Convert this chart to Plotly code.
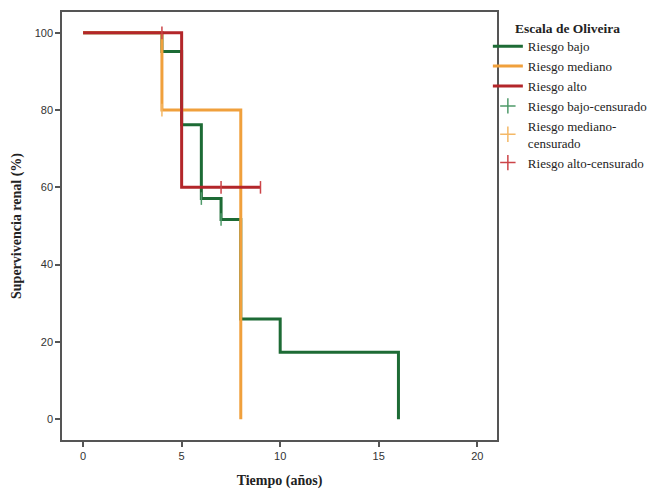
import plotly.graph_objects as go

# Kaplan-Meier step data (time in years, survival %)
bajo_t = [0, 4, 5, 6, 7, 8, 10, 16]
bajo_s = [100, 95.2, 76.2, 57.1, 51.7, 25.9, 17.3, 0]
mediano_t = [0, 4, 8]
mediano_s = [100, 80, 0]
alto_t = [0, 5, 9]
alto_s = [100, 60, 60]

# censored observations
bajo_cens_t = [6, 7]
bajo_cens_s = [57.1, 51.7]
mediano_cens_t = [4]
mediano_cens_s = [80]
alto_cens_t = [4, 7, 9]
alto_cens_s = [100, 60, 60]

names = ["Riesgo bajo", "Riesgo mediano", "Riesgo alto"]
cens_names = ["Riesgo bajo-censurado", "Riesgo mediano-<br>censurado", "Riesgo alto-censurado"]
legend_title = "Escala de Oliveira"
x_ticks = [0, 5, 10, 15, 20]
y_ticks = [0, 20, 40, 60, 80, 100]

col_main = ["#1d6b35", "#f0a03c", "#b3262a"]
col_cens = ["#4f9a6a", "#f4b866", "#cc4448"]

fig = go.Figure()
curves = [(bajo_t, bajo_s), (mediano_t, mediano_s), (alto_t, alto_s)]
cens = [(bajo_cens_t, bajo_cens_s), (mediano_cens_t, mediano_cens_s), (alto_cens_t, alto_cens_s)]

for (t, s), n, c in zip(curves, names, col_main):
    fig.add_trace(go.Scatter(x=t, y=s, mode="lines", line=dict(shape="hv", color=c, width=3),
                             name=n))
for (t, s), n, c in zip(cens, cens_names, col_cens):
    fig.add_trace(go.Scatter(x=t, y=s, mode="markers", showlegend=False, name=n,
                             marker=dict(symbol="line-ns", size=9, line=dict(color=c, width=1.5))))
for n, c in zip(cens_names, col_cens):
    fig.add_trace(go.Scatter(x=[None], y=[None], mode="markers", name=n,
                             marker=dict(symbol="cross-thin", size=11, line=dict(color=c, width=1.5))))

serif = "Liberation Serif, Times New Roman, serif"
sans = "Liberation Sans, Arial, sans-serif"
axis_common = dict(showline=True, linecolor="#555555", linewidth=1.5, mirror=True,
                   showgrid=False, zeroline=False, ticks="outside", ticklen=5,
                   tickcolor="#555555", tickwidth=1.5,
                   tickfont=dict(family=sans, size=11, color="#333333"))

fig.update_layout(
    width=654, height=485,
    paper_bgcolor="white", plot_bgcolor="white",
    margin=dict(l=54, r=165, t=2, b=53),
    xaxis=dict(range=[-1.07, 21.0], tickvals=x_ticks,
               title=dict(text="<b>Tiempo (años)</b>", font=dict(family=serif, size=14, color="#222222"),
                          standoff=14),
               **axis_common),
    yaxis=dict(range=[-5.4, 105.4], tickvals=y_ticks,
               title=dict(text="<b>Supervivencia renal (%)</b>", font=dict(family=serif, size=14, color="#222222"),
                          standoff=10),
               **axis_common),
    legend=dict(x=0.979, xanchor="left", y=0.955, yanchor="top",
                font=dict(family=serif, size=13, color="#222222"),
                itemwidth=30, tracegroupgap=0, bgcolor="rgba(0,0,0,0)"),
    annotations=[dict(text="<b>" + legend_title + "</b>", xref="paper", yref="paper",
                      x=1.036, y=0.983, xanchor="left", yanchor="top", showarrow=False,
                      font=dict(family=serif, size=13.5, color="#222222"))],
)

fig.write_html("out.html")
